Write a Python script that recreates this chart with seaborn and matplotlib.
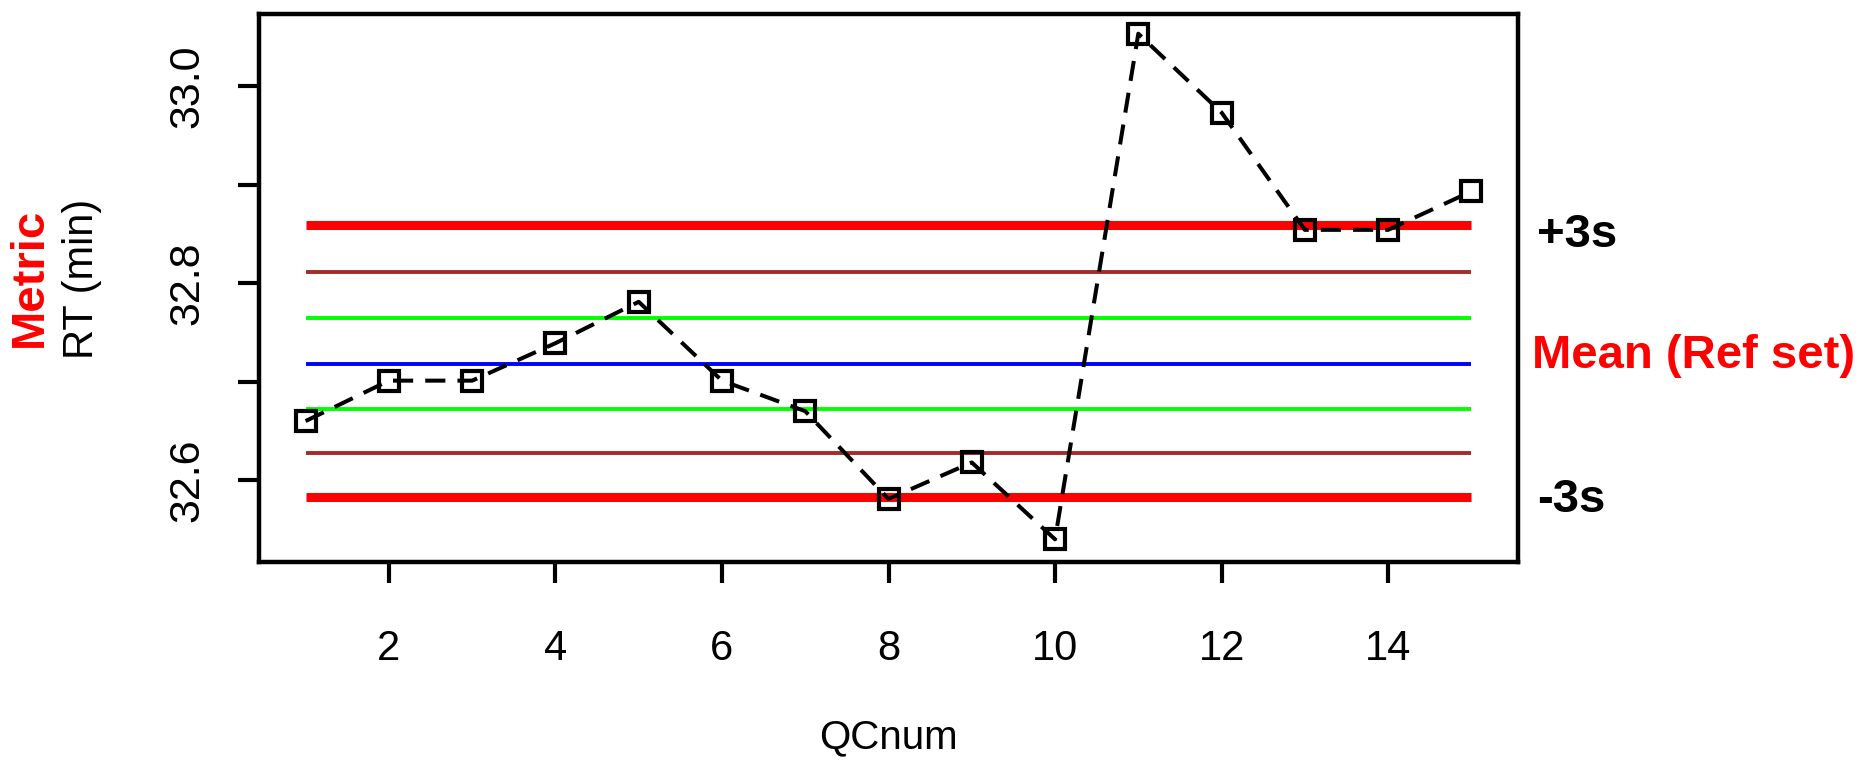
import matplotlib
matplotlib.use('Agg')
import matplotlib.pyplot as plt
import matplotlib.transforms as mtransforms
import seaborn as sns
import pandas as pd

# ------------------------------------------------------------
# Data
# ------------------------------------------------------------
qc_num = list(range(1, 16))
rt_min = [32.660, 32.701, 32.701, 32.739, 32.781, 32.701, 32.670,
          32.581, 32.618, 32.540, 33.053, 32.973, 32.854, 32.854, 32.893]

# control limits (ref set): -3s, -2s, -1s, mean, +1s, +2s, +3s
limit_values = [32.583, 32.628, 32.672, 32.718, 32.765, 32.811, 32.859]
limit_colors = ['#ff0000', '#a52a2a', '#00ff00', '#0000ff', '#00ff00', '#a52a2a', '#ff0000']
limit_widths = [6.5, 2.8, 2.8, 2.8, 2.8, 2.8, 6.5]

xticks = [2, 4, 6, 8, 10, 12, 14]
yticks = [32.6, 32.7, 32.8, 32.9, 33.0]
ytick_labels = ['32.6', '', '32.8', '', '33.0']

right_labels = ['+3s', 'Mean (Ref set)', '-3s']
right_label_y = [32.849, 32.726, 32.580]
right_label_colors = ['black', 'red', 'black']

df = pd.DataFrame({'QCnum': qc_num, 'RT': rt_min})

# ------------------------------------------------------------
# Plot
# ------------------------------------------------------------
sns.set_style('white')
plt.rcParams['font.family'] = ['Liberation Sans', 'DejaVu Sans']

fig = plt.figure(figsize=(18.62, 7.61), dpi=100)
ax = fig.add_axes([259 / 1862, 1 - 562 / 761, 1259 / 1862, 548 / 761])

ax.hlines(limit_values, qc_num[0], qc_num[-1], colors=limit_colors,
          linewidths=limit_widths, zorder=1)

sns.lineplot(data=df, x='QCnum', y='RT', ax=ax, color='black',
             linewidth=2.9, marker='s', markersize=15,
             markerfacecolor='none', markeredgecolor='black',
             markeredgewidth=3.0, zorder=3)
ax.lines[-1].set_dashes((5, 3))

ax.set_xlim(0.44, 15.56)
ax.set_ylim(32.517, 33.073)
ax.set_xticks(xticks)
ax.set_xticklabels([str(t) for t in xticks])
ax.set_yticks(yticks)
ax.set_yticklabels(ytick_labels)

for s in ax.spines.values():
    s.set_visible(True)
    s.set_color('black')
    s.set_linewidth(3.2)

ax.tick_params(axis='both', which='major', direction='out', length=15,
               width=3.0, color='black', labelcolor='black',
               left=True, bottom=True)
ax.tick_params(axis='x', pad=33, labelsize=30)
ax.tick_params(axis='y', pad=22, labelsize=31)
plt.setp(ax.get_yticklabels(), rotation=90, va='center')

ax.set_xlabel('QCnum', fontsize=29, color='black')
ax.set_ylabel('RT (min)', fontsize=30, color='black')
ax.xaxis.set_label_coords(0.5, -0.285)
ax.yaxis.set_label_coords(-0.125, 0.516)

fig.text(30 / 1862, 0.635, 'Metric', rotation=90, color='red',
         fontsize=34, fontweight='bold', ha='center', va='center')

trans = mtransforms.blended_transform_factory(ax.transAxes, ax.transData)
for lab, yv, col in zip(right_labels, right_label_y, right_label_colors):
    ax.text(1.011 if lab.startswith('Mean') else 1.015, yv, lab,
            transform=trans, color=col, fontsize=34, fontweight='bold',
            ha='left', va='center', clip_on=False)

fig.savefig('out.png', dpi=100)
plt.close(fig)
